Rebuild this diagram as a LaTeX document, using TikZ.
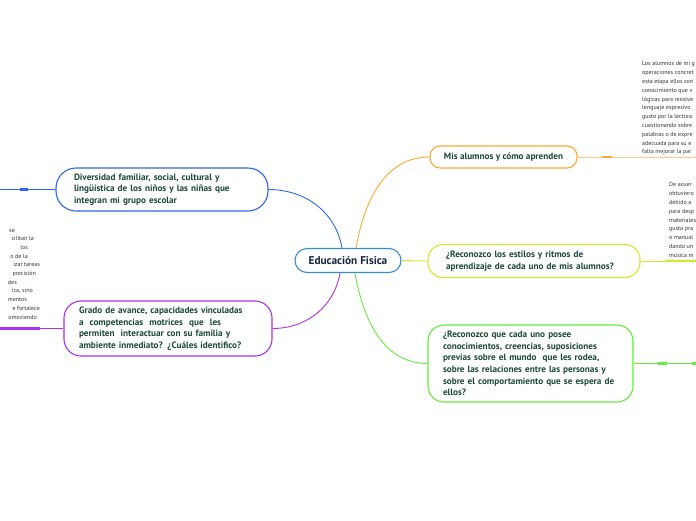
\documentclass[tikz,border=0pt]{standalone}
\usepackage{fontspec}
\setmainfont{PT Sans}
\definecolor{txtgreen}{RGB}{28,72,58}
\definecolor{notegray}{RGB}{50,50,50}
\definecolor{eduline}{RGB}{55,140,215}
\definecolor{edutext}{RGB}{20,40,70}
\definecolor{blueline}{RGB}{45,100,240}
\definecolor{purpleline}{RGB}{170,50,240}
\definecolor{orangeline}{RGB}{250,170,50}
\definecolor{limeline}{RGB}{205,235,40}
\definecolor{greenline}{RGB}{100,235,60}

\begin{document}
\begin{tikzpicture}
      [x=1pt,y=1pt,
       topic/.style={draw,fill=white,line width=1.1pt,align=left,text=txtgreen,
                     font=\bfseries\fontsize{9.2}{11.6}\selectfont,inner ysep=2pt},
       note/.style={align=left,inner sep=0pt,text=notegray,font=\fontsize{6}{8.8}\selectfont},
       link/.style={line width=0.9pt},
       stub/.style={line width=2.6pt}]
      \clip (0,0) rectangle (696,-520);

      % main topic and branches
      \node[topic,draw=eduline,text=edutext,align=center,rounded corners=12pt,
            font=\bfseries\fontsize{11.3}{13}\selectfont,minimum width=106pt,minimum height=24pt]
            (edu) at (348,-260.5) {Educación Fisica};
      \node[topic,draw=blueline,rounded corners=20pt,minimum height=43pt,text width=176pt,inner xsep=18pt]
            (diversidad) at (162,-189.5)
            {Diversidad familiar, social, cultural y\\ lingüística de los niños y las niñas que\\ integran mi grupo escolar};
      \node[topic,draw=purpleline,rounded corners=17pt,minimum height=55pt,text width=178pt,inner xsep=15pt]
            (grado) at (168,-328.5)
            {Grado de avance, capacidades vinculadas\\ a\ \ competencias\ \ motrices\ \ que\ \ les\\
             permiten\ \ interactuar con su familia y\\ ambiente inmediato? ¿Cuáles identifico?};
      \node[topic,draw=orangeline,align=center,rounded corners=10pt,minimum width=147pt,minimum height=22pt]
            (alumnos) at (503.5,-157) {Mis alumnos y cómo aprenden};
      \node[topic,draw=limeline,rounded corners=15pt,minimum height=33pt,text width=176pt,inner xsep=18pt]
            (estilos) at (534,-261)
            {¿Reconozco los estilos y ritmos de\\ aprendizaje de cada uno de mis alumnos?};
      \node[topic,draw=greenline,rounded corners=16pt,minimum height=77pt,text width=175pt,inner xsep=15pt]
            (previos) at (530.5,-363.5)
            {¿Reconozco que cada uno posee\\ conocimientos, creencias, suposiciones\\
             previas sobre el mundo\ \ que les rodea,\\ sobre las relaciones entre las personas y\\
             sobre el comportamiento que se espera de\\ ellos?};

      \draw[link,blueline] ([xshift=-6pt]edu.north) to[out=100,in=0] (diversidad.east);
      \draw[link,orangeline] ([xshift=8pt]edu.north) to[out=80,in=180] (alumnos.west);
      \draw[link,purpleline] ([xshift=-8pt]edu.south) to[out=-100,in=0] (grado.east);
      \draw[link,greenline] ([xshift=7pt]edu.south) to[out=-80,in=180] (previos.west);
      \draw[link,limeline] (edu.east) -- (estilos.west);

      % side notes
      \node[note,anchor=north west] (nota1) at (642,-61.5)
            {Los alumnos de mi g\\ operaciones concret\\ esta etapa ellos son\\ conocimiento que v\\
             lógicas para resolve\\ lenguaje expresivo\\ gusto por la lectura\\ cuestionando sobre\\
             palabras o de expre\\ adecuada para su e\\ falta mejorar la par};
      \node[note,anchor=north west] (nota2) at (669,-182.5)
            {De acuer\\ obtuviero\\ debido a\\ para desp\\ materiales\\ gusta pra\\ o manual\\ dando un\\ música m};
      \foreach \t/\x/\y [count=\i] in {se/15/232,cilitan la/34/240.7,los/28/249.4,o de la/28/258.1,
            izar tareas/40/266.8,precisión/36/275.5,des/17/284.2,{ica, sino}/33/292.9,mentos/27/301.6,
            e fortalece/40/310.3,omoviendo/37/319}
        \node[note,anchor=base east] (nota3\i) at (\x,-\y) {\t};

      % stubs leading off the page
      \coordinate (b1) at (0,-189.5);   \coordinate (b2) at (20,-189.5);  \coordinate (b3) at (28,-189.5);
      \coordinate (p1) at (0,-328.5);   \coordinate (p2) at (40,-328.5);
      \coordinate (o1) at (602,-157);   \coordinate (o2) at (612,-157);   \coordinate (o3) at (696,-157);
      \coordinate (l1) at (665,-261);   \coordinate (l2) at (696,-261);
      \coordinate (g1) at (658,-363.5); \coordinate (g2) at (667,-363.5);
      \coordinate (g3) at (692,-363.5); \coordinate (g4) at (696,-363.5);

      \foreach \from/\to/\c in {diversidad.west/b1/blueline,grado.west/p1/purpleline,
            alumnos.east/o3/orangeline!60,estilos.east/l2/limeline,previos.east/g4/greenline}
      \draw[link,\c] (\from) -- (\to);
      \foreach \from/\to/\c in {b2/b3/blueline,p1/p2/purpleline,o1/o2/orangeline,
            l1/l2/limeline,g1/g2/greenline,g3/g4/greenline}
      \draw[stub,\c] (\from) -- (\to);
\end{tikzpicture}
\end{document}
